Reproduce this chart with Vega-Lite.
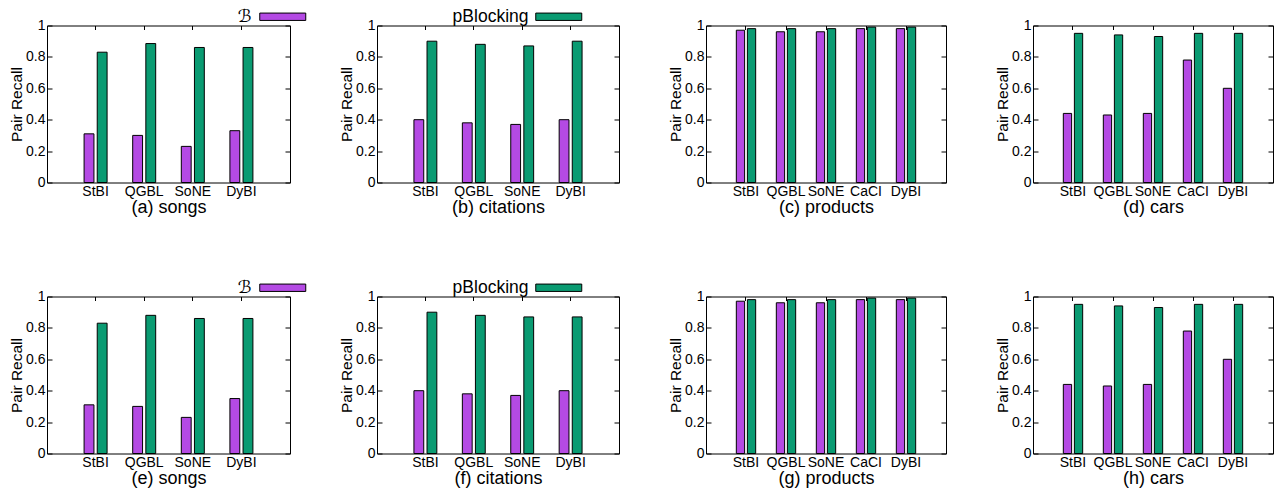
{
  "$schema": "https://vega.github.io/schema/vega-lite/v6.json",
  "padding": {"left": 9, "top": 7.5, "right": 0, "bottom": 0},
  "background": "white",
  "config": {
    "font": "Liberation Sans",
    "view": {"stroke": "black", "strokeWidth": 1},
    "axis": {"grid": false, "domain": false, "labelFont": "Liberation Sans", "titleFont": "Liberation Sans", "labelColor": "black", "titleColor": "black", "titleFontWeight": "normal", "tickColor": "black"},
    "legend": {"padding": 0}
  },
  "datasets": {
    "d": [
      {"panel": "a", "cat": "StBI", "method": "ℬ", "value": 0.31},
      {"panel": "a", "cat": "StBI", "method": "pBlocking", "value": 0.83},
      {"panel": "a", "cat": "QGBL", "method": "ℬ", "value": 0.30},
      {"panel": "a", "cat": "QGBL", "method": "pBlocking", "value": 0.885},
      {"panel": "a", "cat": "SoNE", "method": "ℬ", "value": 0.23},
      {"panel": "a", "cat": "SoNE", "method": "pBlocking", "value": 0.86},
      {"panel": "a", "cat": "DyBI", "method": "ℬ", "value": 0.33},
      {"panel": "a", "cat": "DyBI", "method": "pBlocking", "value": 0.86},
      {"panel": "b", "cat": "StBI", "method": "ℬ", "value": 0.40},
      {"panel": "b", "cat": "StBI", "method": "pBlocking", "value": 0.90},
      {"panel": "b", "cat": "QGBL", "method": "ℬ", "value": 0.38},
      {"panel": "b", "cat": "QGBL", "method": "pBlocking", "value": 0.88},
      {"panel": "b", "cat": "SoNE", "method": "ℬ", "value": 0.37},
      {"panel": "b", "cat": "SoNE", "method": "pBlocking", "value": 0.87},
      {"panel": "b", "cat": "DyBI", "method": "ℬ", "value": 0.40},
      {"panel": "b", "cat": "DyBI", "method": "pBlocking", "value": 0.90},
      {"panel": "c", "cat": "StBI", "method": "ℬ", "value": 0.97},
      {"panel": "c", "cat": "StBI", "method": "pBlocking", "value": 0.98},
      {"panel": "c", "cat": "QGBL", "method": "ℬ", "value": 0.96},
      {"panel": "c", "cat": "QGBL", "method": "pBlocking", "value": 0.98},
      {"panel": "c", "cat": "SoNE", "method": "ℬ", "value": 0.96},
      {"panel": "c", "cat": "SoNE", "method": "pBlocking", "value": 0.98},
      {"panel": "c", "cat": "CaCI", "method": "ℬ", "value": 0.98},
      {"panel": "c", "cat": "CaCI", "method": "pBlocking", "value": 0.99},
      {"panel": "c", "cat": "DyBI", "method": "ℬ", "value": 0.98},
      {"panel": "c", "cat": "DyBI", "method": "pBlocking", "value": 0.99},
      {"panel": "d", "cat": "StBI", "method": "ℬ", "value": 0.44},
      {"panel": "d", "cat": "StBI", "method": "pBlocking", "value": 0.95},
      {"panel": "d", "cat": "QGBL", "method": "ℬ", "value": 0.43},
      {"panel": "d", "cat": "QGBL", "method": "pBlocking", "value": 0.94},
      {"panel": "d", "cat": "SoNE", "method": "ℬ", "value": 0.44},
      {"panel": "d", "cat": "SoNE", "method": "pBlocking", "value": 0.93},
      {"panel": "d", "cat": "CaCI", "method": "ℬ", "value": 0.78},
      {"panel": "d", "cat": "CaCI", "method": "pBlocking", "value": 0.95},
      {"panel": "d", "cat": "DyBI", "method": "ℬ", "value": 0.60},
      {"panel": "d", "cat": "DyBI", "method": "pBlocking", "value": 0.95},
      {"panel": "e", "cat": "StBI", "method": "ℬ", "value": 0.31},
      {"panel": "e", "cat": "StBI", "method": "pBlocking", "value": 0.83},
      {"panel": "e", "cat": "QGBL", "method": "ℬ", "value": 0.30},
      {"panel": "e", "cat": "QGBL", "method": "pBlocking", "value": 0.88},
      {"panel": "e", "cat": "SoNE", "method": "ℬ", "value": 0.23},
      {"panel": "e", "cat": "SoNE", "method": "pBlocking", "value": 0.86},
      {"panel": "e", "cat": "DyBI", "method": "ℬ", "value": 0.35},
      {"panel": "e", "cat": "DyBI", "method": "pBlocking", "value": 0.86},
      {"panel": "f", "cat": "StBI", "method": "ℬ", "value": 0.40},
      {"panel": "f", "cat": "StBI", "method": "pBlocking", "value": 0.90},
      {"panel": "f", "cat": "QGBL", "method": "ℬ", "value": 0.38},
      {"panel": "f", "cat": "QGBL", "method": "pBlocking", "value": 0.88},
      {"panel": "f", "cat": "SoNE", "method": "ℬ", "value": 0.37},
      {"panel": "f", "cat": "SoNE", "method": "pBlocking", "value": 0.87},
      {"panel": "f", "cat": "DyBI", "method": "ℬ", "value": 0.40},
      {"panel": "f", "cat": "DyBI", "method": "pBlocking", "value": 0.87},
      {"panel": "g", "cat": "StBI", "method": "ℬ", "value": 0.97},
      {"panel": "g", "cat": "StBI", "method": "pBlocking", "value": 0.98},
      {"panel": "g", "cat": "QGBL", "method": "ℬ", "value": 0.96},
      {"panel": "g", "cat": "QGBL", "method": "pBlocking", "value": 0.98},
      {"panel": "g", "cat": "SoNE", "method": "ℬ", "value": 0.96},
      {"panel": "g", "cat": "SoNE", "method": "pBlocking", "value": 0.98},
      {"panel": "g", "cat": "CaCI", "method": "ℬ", "value": 0.98},
      {"panel": "g", "cat": "CaCI", "method": "pBlocking", "value": 0.99},
      {"panel": "g", "cat": "DyBI", "method": "ℬ", "value": 0.98},
      {"panel": "g", "cat": "DyBI", "method": "pBlocking", "value": 0.99},
      {"panel": "h", "cat": "StBI", "method": "ℬ", "value": 0.44},
      {"panel": "h", "cat": "StBI", "method": "pBlocking", "value": 0.95},
      {"panel": "h", "cat": "QGBL", "method": "ℬ", "value": 0.43},
      {"panel": "h", "cat": "QGBL", "method": "pBlocking", "value": 0.94},
      {"panel": "h", "cat": "SoNE", "method": "ℬ", "value": 0.44},
      {"panel": "h", "cat": "SoNE", "method": "pBlocking", "value": 0.93},
      {"panel": "h", "cat": "CaCI", "method": "ℬ", "value": 0.78},
      {"panel": "h", "cat": "CaCI", "method": "pBlocking", "value": 0.95},
      {"panel": "h", "cat": "DyBI", "method": "ℬ", "value": 0.60},
      {"panel": "h", "cat": "DyBI", "method": "pBlocking", "value": 0.95}
    ]
  },
  "data": {"name": "d"},
  "bounds": "full",
  "spacing": 61,
  "resolve": {"scale": {"x": "independent", "y": "independent", "color": "independent", "xOffset": "independent"}, "legend": {"color": "independent"}, "axis": {"x": "independent", "y": "independent"}},
  "vconcat": [
    {
      "bounds": "flush",
      "spacing": 87,
      "resolve": {"scale": {"x": "independent", "y": "independent", "color": "independent", "xOffset": "independent"}, "legend": {"color": "independent"}, "axis": {"x": "independent", "y": "independent"}},
      "hconcat": [
        {
          "width": 243, "height": 157,
          "transform": [{"filter": "datum.panel === 'a'"}],
          "layer": [
            {"mark": {"type": "bar", "stroke": "black", "strokeWidth": 1},
             "encoding": {
               "x": {"field": "cat", "type": "nominal", "sort": ["StBI", "QGBL", "SoNE", "DyBI"], "scale": {"paddingInner": 0.527, "paddingOuter": 0.763}, "axis": {"title": "(a) songs", "titleFontSize": 18, "titlePadding": 0, "labelAngle": 0, "labelFontSize": 14, "ticks": false, "labelPadding": 2}},
               "xOffset": {"field": "method", "sort": ["ℬ", "pBlocking"], "scale": {"paddingInner": 0.25}},
               "y": {"field": "value", "type": "quantitative", "scale": {"domain": [0, 1]}, "axis": {"title": "Pair Recall", "titleFontSize": 15.5, "titlePadding": 1, "values": [0, 0.2, 0.4, 0.6, 0.8, 1], "format": "~g", "labelFontSize": 14, "tickSize": -5, "labelPadding": 7}},
               "color": {"field": "method", "type": "nominal", "scale": {"domain": ["ℬ", "pBlocking"], "range": ["#b44ae4", "#0a9b72"]},
                 "legend": {"values": ["ℬ"], "title": null, "orient": "none", "legendX": 227, "legendY": -17.5, "symbolType": "M-5,-0.8H5V0.8H-5Z", "symbolSize": 84.64, "symbolStrokeColor": "black", "symbolStrokeWidth": 1, "symbolOpacity": 1, "labelAlign": "right", "labelOffset": -40, "labelFont": "DejaVu Sans", "labelFontSize": 17.5, "labelColor": "black"}}
             }},
            {"mark": {"type": "bar", "opacity": 0},
             "encoding": {
               "x": {"field": "cat", "type": "nominal", "sort": ["StBI", "QGBL", "SoNE", "DyBI"], "axis": {"orient": "top", "labels": false, "title": null, "tickSize": -4}},
               "xOffset": {"field": "method", "sort": ["ℬ", "pBlocking"]},
               "y": {"field": "value", "type": "quantitative", "axis": {"orient": "right", "labels": false, "title": null, "values": [0, 0.2, 0.4, 0.6, 0.8, 1], "tickSize": -5}}
             }}
          ],
          "resolve": {"axis": {"x": "independent", "y": "independent"}}
        },
        {
          "width": 242, "height": 157,
          "transform": [{"filter": "datum.panel === 'b'"}],
          "layer": [
            {"mark": {"type": "bar", "stroke": "black", "strokeWidth": 1},
             "encoding": {
               "x": {"field": "cat", "type": "nominal", "sort": ["StBI", "QGBL", "SoNE", "DyBI"], "scale": {"paddingInner": 0.527, "paddingOuter": 0.763}, "axis": {"title": "(b) citations", "titleFontSize": 18, "titlePadding": 0, "labelAngle": 0, "labelFontSize": 14, "ticks": false, "labelPadding": 2}},
               "xOffset": {"field": "method", "sort": ["ℬ", "pBlocking"], "scale": {"paddingInner": 0.25}},
               "y": {"field": "value", "type": "quantitative", "scale": {"domain": [0, 1]}, "axis": {"title": "Pair Recall", "titleFontSize": 15.5, "titlePadding": 1, "values": [0, 0.2, 0.4, 0.6, 0.8, 1], "format": "~g", "labelFontSize": 14, "tickSize": -5, "labelPadding": 7}},
               "color": {"field": "method", "type": "nominal", "scale": {"domain": ["ℬ", "pBlocking"], "range": ["#b44ae4", "#0a9b72"]},
                 "legend": {"values": ["pBlocking"], "title": null, "orient": "none", "legendX": 173, "legendY": -17.5, "symbolType": "M-5,-0.8H5V0.8H-5Z", "symbolSize": 84.64, "symbolStrokeColor": "black", "symbolStrokeWidth": 1, "symbolOpacity": 1, "labelAlign": "right", "labelOffset": -39, "labelFont": "Liberation Sans", "labelFontSize": 17.5, "labelColor": "black"}}
             }},
            {"mark": {"type": "bar", "opacity": 0},
             "encoding": {
               "x": {"field": "cat", "type": "nominal", "sort": ["StBI", "QGBL", "SoNE", "DyBI"], "axis": {"orient": "top", "labels": false, "title": null, "tickSize": -4}},
               "xOffset": {"field": "method", "sort": ["ℬ", "pBlocking"]},
               "y": {"field": "value", "type": "quantitative", "axis": {"orient": "right", "labels": false, "title": null, "values": [0, 0.2, 0.4, 0.6, 0.8, 1], "tickSize": -5}}
             }}
          ],
          "resolve": {"axis": {"x": "independent", "y": "independent"}}
        },
        {
          "width": 240, "height": 157,
          "transform": [{"filter": "datum.panel === 'c'"}],
          "layer": [
            {"mark": {"type": "bar", "stroke": "black", "strokeWidth": 1},
             "encoding": {
               "x": {"field": "cat", "type": "nominal", "sort": ["StBI", "QGBL", "SoNE", "CaCI", "DyBI"], "scale": {"paddingInner": 0.516, "paddingOuter": 0.758}, "axis": {"title": "(c) products", "titleFontSize": 18, "titlePadding": 0, "labelAngle": 0, "labelFontSize": 14, "ticks": false, "labelPadding": 2}},
               "xOffset": {"field": "method", "sort": ["ℬ", "pBlocking"], "scale": {"paddingInner": 0.25}},
               "y": {"field": "value", "type": "quantitative", "scale": {"domain": [0, 1]}, "axis": {"title": "Pair Recall", "titleFontSize": 15.5, "titlePadding": 1, "values": [0, 0.2, 0.4, 0.6, 0.8, 1], "format": "~g", "labelFontSize": 14, "tickSize": -5, "labelPadding": 7}},
               "color": {"field": "method", "type": "nominal", "scale": {"domain": ["ℬ", "pBlocking"], "range": ["#b44ae4", "#0a9b72"]}, "legend": null}
             }},
            {"mark": {"type": "bar", "opacity": 0},
             "encoding": {
               "x": {"field": "cat", "type": "nominal", "sort": ["StBI", "QGBL", "SoNE", "CaCI", "DyBI"], "axis": {"orient": "top", "labels": false, "title": null, "tickSize": -4}},
               "xOffset": {"field": "method", "sort": ["ℬ", "pBlocking"]},
               "y": {"field": "value", "type": "quantitative", "axis": {"orient": "right", "labels": false, "title": null, "values": [0, 0.2, 0.4, 0.6, 0.8, 1], "tickSize": -5}}
             }}
          ],
          "resolve": {"axis": {"x": "independent", "y": "independent"}}
        },
        {
          "width": 240, "height": 157,
          "transform": [{"filter": "datum.panel === 'd'"}],
          "layer": [
            {"mark": {"type": "bar", "stroke": "black", "strokeWidth": 1},
             "encoding": {
               "x": {"field": "cat", "type": "nominal", "sort": ["StBI", "QGBL", "SoNE", "CaCI", "DyBI"], "scale": {"paddingInner": 0.516, "paddingOuter": 0.758}, "axis": {"title": "(d) cars", "titleFontSize": 18, "titlePadding": 0, "labelAngle": 0, "labelFontSize": 14, "ticks": false, "labelPadding": 2}},
               "xOffset": {"field": "method", "sort": ["ℬ", "pBlocking"], "scale": {"paddingInner": 0.25}},
               "y": {"field": "value", "type": "quantitative", "scale": {"domain": [0, 1]}, "axis": {"title": "Pair Recall", "titleFontSize": 15.5, "titlePadding": 1, "values": [0, 0.2, 0.4, 0.6, 0.8, 1], "format": "~g", "labelFontSize": 14, "tickSize": -5, "labelPadding": 7}},
               "color": {"field": "method", "type": "nominal", "scale": {"domain": ["ℬ", "pBlocking"], "range": ["#b44ae4", "#0a9b72"]}, "legend": null}
             }},
            {"mark": {"type": "bar", "opacity": 0},
             "encoding": {
               "x": {"field": "cat", "type": "nominal", "sort": ["StBI", "QGBL", "SoNE", "CaCI", "DyBI"], "axis": {"orient": "top", "labels": false, "title": null, "tickSize": -4}},
               "xOffset": {"field": "method", "sort": ["ℬ", "pBlocking"]},
               "y": {"field": "value", "type": "quantitative", "axis": {"orient": "right", "labels": false, "title": null, "values": [0, 0.2, 0.4, 0.6, 0.8, 1], "tickSize": -5}}
             }}
          ],
          "resolve": {"axis": {"x": "independent", "y": "independent"}}
        }
      ]
    },
    {
      "bounds": "flush",
      "spacing": 87,
      "resolve": {"scale": {"x": "independent", "y": "independent", "color": "independent", "xOffset": "independent"}, "legend": {"color": "independent"}, "axis": {"x": "independent", "y": "independent"}},
      "hconcat": [
        {
          "width": 243, "height": 157,
          "transform": [{"filter": "datum.panel === 'e'"}],
          "layer": [
            {"mark": {"type": "bar", "stroke": "black", "strokeWidth": 1},
             "encoding": {
               "x": {"field": "cat", "type": "nominal", "sort": ["StBI", "QGBL", "SoNE", "DyBI"], "scale": {"paddingInner": 0.527, "paddingOuter": 0.763}, "axis": {"title": "(e) songs", "titleFontSize": 18, "titlePadding": 0, "labelAngle": 0, "labelFontSize": 14, "ticks": false, "labelPadding": 2}},
               "xOffset": {"field": "method", "sort": ["ℬ", "pBlocking"], "scale": {"paddingInner": 0.25}},
               "y": {"field": "value", "type": "quantitative", "scale": {"domain": [0, 1]}, "axis": {"title": "Pair Recall", "titleFontSize": 15.5, "titlePadding": 1, "values": [0, 0.2, 0.4, 0.6, 0.8, 1], "format": "~g", "labelFontSize": 14, "tickSize": -5, "labelPadding": 7}},
               "color": {"field": "method", "type": "nominal", "scale": {"domain": ["ℬ", "pBlocking"], "range": ["#b44ae4", "#0a9b72"]},
                 "legend": {"values": ["ℬ"], "title": null, "orient": "none", "legendX": 227, "legendY": -17.5, "symbolType": "M-5,-0.8H5V0.8H-5Z", "symbolSize": 84.64, "symbolStrokeColor": "black", "symbolStrokeWidth": 1, "symbolOpacity": 1, "labelAlign": "right", "labelOffset": -40, "labelFont": "DejaVu Sans", "labelFontSize": 17.5, "labelColor": "black"}}
             }},
            {"mark": {"type": "bar", "opacity": 0},
             "encoding": {
               "x": {"field": "cat", "type": "nominal", "sort": ["StBI", "QGBL", "SoNE", "DyBI"], "axis": {"orient": "top", "labels": false, "title": null, "tickSize": -4}},
               "xOffset": {"field": "method", "sort": ["ℬ", "pBlocking"]},
               "y": {"field": "value", "type": "quantitative", "axis": {"orient": "right", "labels": false, "title": null, "values": [0, 0.2, 0.4, 0.6, 0.8, 1], "tickSize": -5}}
             }}
          ],
          "resolve": {"axis": {"x": "independent", "y": "independent"}}
        },
        {
          "width": 242, "height": 157,
          "transform": [{"filter": "datum.panel === 'f'"}],
          "layer": [
            {"mark": {"type": "bar", "stroke": "black", "strokeWidth": 1},
             "encoding": {
               "x": {"field": "cat", "type": "nominal", "sort": ["StBI", "QGBL", "SoNE", "DyBI"], "scale": {"paddingInner": 0.527, "paddingOuter": 0.763}, "axis": {"title": "(f) citations", "titleFontSize": 18, "titlePadding": 0, "labelAngle": 0, "labelFontSize": 14, "ticks": false, "labelPadding": 2}},
               "xOffset": {"field": "method", "sort": ["ℬ", "pBlocking"], "scale": {"paddingInner": 0.25}},
               "y": {"field": "value", "type": "quantitative", "scale": {"domain": [0, 1]}, "axis": {"title": "Pair Recall", "titleFontSize": 15.5, "titlePadding": 1, "values": [0, 0.2, 0.4, 0.6, 0.8, 1], "format": "~g", "labelFontSize": 14, "tickSize": -5, "labelPadding": 7}},
               "color": {"field": "method", "type": "nominal", "scale": {"domain": ["ℬ", "pBlocking"], "range": ["#b44ae4", "#0a9b72"]},
                 "legend": {"values": ["pBlocking"], "title": null, "orient": "none", "legendX": 173, "legendY": -17.5, "symbolType": "M-5,-0.8H5V0.8H-5Z", "symbolSize": 84.64, "symbolStrokeColor": "black", "symbolStrokeWidth": 1, "symbolOpacity": 1, "labelAlign": "right", "labelOffset": -39, "labelFont": "Liberation Sans", "labelFontSize": 17.5, "labelColor": "black"}}
             }},
            {"mark": {"type": "bar", "opacity": 0},
             "encoding": {
               "x": {"field": "cat", "type": "nominal", "sort": ["StBI", "QGBL", "SoNE", "DyBI"], "axis": {"orient": "top", "labels": false, "title": null, "tickSize": -4}},
               "xOffset": {"field": "method", "sort": ["ℬ", "pBlocking"]},
               "y": {"field": "value", "type": "quantitative", "axis": {"orient": "right", "labels": false, "title": null, "values": [0, 0.2, 0.4, 0.6, 0.8, 1], "tickSize": -5}}
             }}
          ],
          "resolve": {"axis": {"x": "independent", "y": "independent"}}
        },
        {
          "width": 240, "height": 157,
          "transform": [{"filter": "datum.panel === 'g'"}],
          "layer": [
            {"mark": {"type": "bar", "stroke": "black", "strokeWidth": 1},
             "encoding": {
               "x": {"field": "cat", "type": "nominal", "sort": ["StBI", "QGBL", "SoNE", "CaCI", "DyBI"], "scale": {"paddingInner": 0.516, "paddingOuter": 0.758}, "axis": {"title": "(g) products", "titleFontSize": 18, "titlePadding": 0, "labelAngle": 0, "labelFontSize": 14, "ticks": false, "labelPadding": 2}},
               "xOffset": {"field": "method", "sort": ["ℬ", "pBlocking"], "scale": {"paddingInner": 0.25}},
               "y": {"field": "value", "type": "quantitative", "scale": {"domain": [0, 1]}, "axis": {"title": "Pair Recall", "titleFontSize": 15.5, "titlePadding": 1, "values": [0, 0.2, 0.4, 0.6, 0.8, 1], "format": "~g", "labelFontSize": 14, "tickSize": -5, "labelPadding": 7}},
               "color": {"field": "method", "type": "nominal", "scale": {"domain": ["ℬ", "pBlocking"], "range": ["#b44ae4", "#0a9b72"]}, "legend": null}
             }},
            {"mark": {"type": "bar", "opacity": 0},
             "encoding": {
               "x": {"field": "cat", "type": "nominal", "sort": ["StBI", "QGBL", "SoNE", "CaCI", "DyBI"], "axis": {"orient": "top", "labels": false, "title": null, "tickSize": -4}},
               "xOffset": {"field": "method", "sort": ["ℬ", "pBlocking"]},
               "y": {"field": "value", "type": "quantitative", "axis": {"orient": "right", "labels": false, "title": null, "values": [0, 0.2, 0.4, 0.6, 0.8, 1], "tickSize": -5}}
             }}
          ],
          "resolve": {"axis": {"x": "independent", "y": "independent"}}
        },
        {
          "width": 240, "height": 157,
          "transform": [{"filter": "datum.panel === 'h'"}],
          "layer": [
            {"mark": {"type": "bar", "stroke": "black", "strokeWidth": 1},
             "encoding": {
               "x": {"field": "cat", "type": "nominal", "sort": ["StBI", "QGBL", "SoNE", "CaCI", "DyBI"], "scale": {"paddingInner": 0.516, "paddingOuter": 0.758}, "axis": {"title": "(h) cars", "titleFontSize": 18, "titlePadding": 0, "labelAngle": 0, "labelFontSize": 14, "ticks": false, "labelPadding": 2}},
               "xOffset": {"field": "method", "sort": ["ℬ", "pBlocking"], "scale": {"paddingInner": 0.25}},
               "y": {"field": "value", "type": "quantitative", "scale": {"domain": [0, 1]}, "axis": {"title": "Pair Recall", "titleFontSize": 15.5, "titlePadding": 1, "values": [0, 0.2, 0.4, 0.6, 0.8, 1], "format": "~g", "labelFontSize": 14, "tickSize": -5, "labelPadding": 7}},
               "color": {"field": "method", "type": "nominal", "scale": {"domain": ["ℬ", "pBlocking"], "range": ["#b44ae4", "#0a9b72"]}, "legend": null}
             }},
            {"mark": {"type": "bar", "opacity": 0},
             "encoding": {
               "x": {"field": "cat", "type": "nominal", "sort": ["StBI", "QGBL", "SoNE", "CaCI", "DyBI"], "axis": {"orient": "top", "labels": false, "title": null, "tickSize": -4}},
               "xOffset": {"field": "method", "sort": ["ℬ", "pBlocking"]},
               "y": {"field": "value", "type": "quantitative", "axis": {"orient": "right", "labels": false, "title": null, "values": [0, 0.2, 0.4, 0.6, 0.8, 1], "tickSize": -5}}
             }}
          ],
          "resolve": {"axis": {"x": "independent", "y": "independent"}}
        }
      ]
    }
  ]
}
